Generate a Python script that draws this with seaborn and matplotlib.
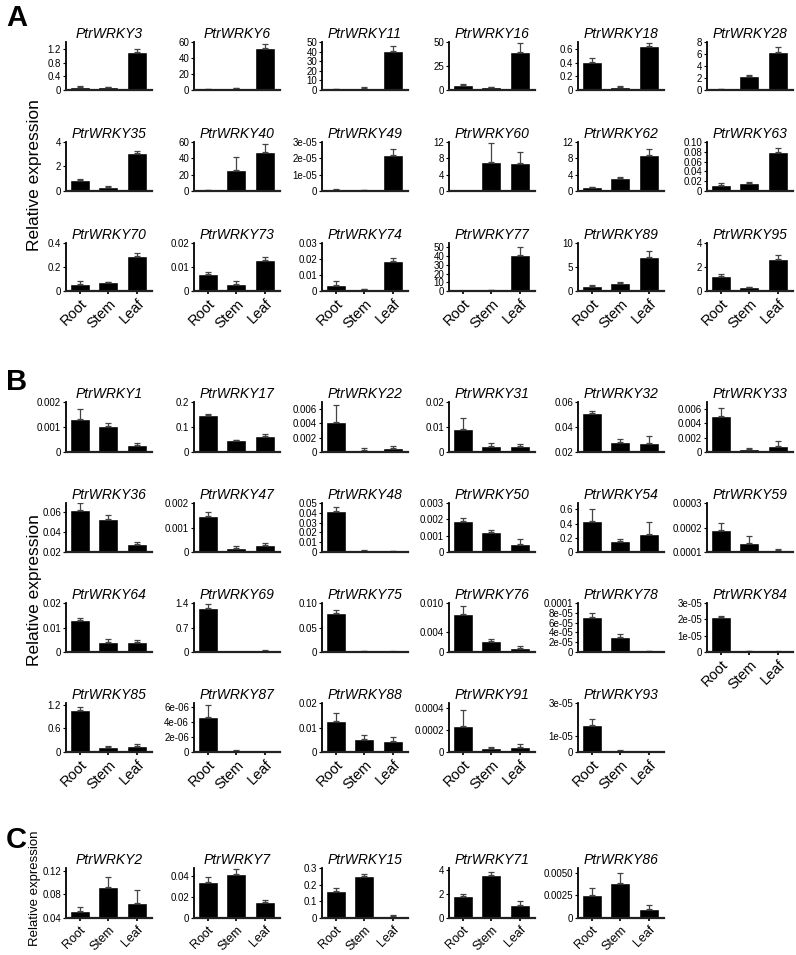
import matplotlib
matplotlib.use("Agg")
import matplotlib.pyplot as plt
import seaborn as sns
import numpy as np
import pandas as pd

sns.set_theme(style="ticks")
plt.rcParams['font.family'] = ['Liberation Sans', 'DejaVu Sans']
plt.rcParams['text.color'] = 'black'
plt.rcParams['axes.labelcolor'] = 'black'
plt.rcParams['xtick.color'] = 'black'
plt.rcParams['ytick.color'] = 'black'
plt.rcParams['axes.edgecolor'] = 'black'

tissues = ["Root", "Stem", "Leaf"]

# ---------------- Section A ----------------
A_genes = ["PtrWRKY3", "PtrWRKY6", "PtrWRKY11", "PtrWRKY16", "PtrWRKY18", "PtrWRKY28",
           "PtrWRKY35", "PtrWRKY40", "PtrWRKY49", "PtrWRKY60", "PtrWRKY62", "PtrWRKY63",
           "PtrWRKY70", "PtrWRKY73", "PtrWRKY74", "PtrWRKY77", "PtrWRKY89", "PtrWRKY95"]
A_root = [0.10, 0.8, 0.8, 5.0, 0.41, 0.1, 0.9, 0.7, 8e-7, 0.0, 1.0, 0.013,
          0.06, 0.007, 0.0035, 0.3, 1.1, 1.25]
A_stem = [0.08, 2.0, 2.5, 3.0, 0.05, 2.4, 0.35, 26.0, 6e-7, 7.2, 3.1, 0.016,
          0.072, 0.003, 0.001, 1.0, 1.7, 0.3]
A_leaf = [1.12, 52.0, 41.0, 40.0, 0.64, 6.3, 3.1, 48.0, 2.2e-5, 6.8, 8.8, 0.080,
          0.29, 0.0128, 0.019, 41.0, 7.0, 2.7]
A_root_err = [0.03, 0.2, 0.2, 0.8, 0.05, 0.05, 0.05, 0.2, 2e-7, 0.0, 0.1, 0.003,
              0.02, 0.001, 0.0025, 0.2, 0.1, 0.15]
A_stem_err = [0.02, 0.4, 0.5, 0.5, 0.01, 0.1, 0.03, 16.0, 1e-7, 4.5, 0.4, 0.003,
              0.005, 0.001, 0.0004, 0.4, 0.1, 0.05]
A_leaf_err = [0.10, 5.0, 5.0, 9.0, 0.04, 0.8, 0.2, 10.0, 3.5e-6, 2.8, 1.5, 0.008,
              0.025, 0.0015, 0.0018, 9.0, 1.4, 0.3]
A_ticklabels = [["0", "0.4", "0.8", "1.2"], ["0", "20", "40", "60"],
                ["0", "10", "20", "30", "40", "50"], ["0", "25", "50"],
                ["0", "0.2", "0.4", "0.6"], ["0", "2", "4", "6", "8"],
                ["0", "2", "4"], ["0", "20", "40", "60"],
                ["0", "1e-05", "2e-05", "3e-05"], ["0", "4", "8", "12"],
                ["0", "4", "8", "12"], ["0", "0.02", "0.04", "0.06", "0.08", "0.10"],
                ["0", "0.2", "0.4"], ["0", "0.01", "0.02"],
                ["0", "0.01", "0.02", "0.03"], ["0", "10", "20", "30", "40", "50"],
                ["0", "5", "10"], ["0", "2", "4"]]
A_ymax = [1.42, 60, 50, 50, 0.70, 8, 4, 60, 3e-5, 12, 12, 0.10,
          0.4, 0.02, 0.03, 55, 10, 4]

# ---------------- Section B ----------------
B_genes = ["PtrWRKY1", "PtrWRKY17", "PtrWRKY22", "PtrWRKY31", "PtrWRKY32", "PtrWRKY33",
           "PtrWRKY36", "PtrWRKY47", "PtrWRKY48", "PtrWRKY50", "PtrWRKY54", "PtrWRKY59",
           "PtrWRKY64", "PtrWRKY69", "PtrWRKY75", "PtrWRKY76", "PtrWRKY78", "PtrWRKY84",
           "PtrWRKY85", "PtrWRKY87", "PtrWRKY88", "PtrWRKY91", "PtrWRKY93"]
B_root = [0.0013, 0.148, 0.0042, 0.0093, 0.051, 0.0051,
          0.062, 0.00145, 0.042, 0.0019, 0.43, 0.00019,
          0.013, 1.27, 0.079, 0.0077, 7.2e-5, 2.15e-5,
          1.07, 4.6e-6, 0.0125, 0.00024, 1.65e-5]
B_stem = [0.00105, 0.046, 0.0003, 0.0022, 0.028, 0.0004,
          0.053, 0.00018, 0.0015, 0.0012, 0.16, 0.000135,
          0.004, 0.01, 0.002, 0.0022, 3.0e-5, 5e-7,
          0.13, 1.5e-7, 0.0055, 0.00004, 8e-7]
B_leaf = [0.00028, 0.065, 0.0006, 0.0022, 0.0275, 0.0009,
          0.028, 0.00027, 0.001, 0.00047, 0.25, 0.000107,
          0.004, 0.04, 0.001, 0.0008, 1.5e-6, 3e-7,
          0.15, 3e-8, 0.0045, 0.00005, 1e-7]
B_root_err = [0.0004, 0.004, 0.0024, 0.0043, 0.002, 0.0011,
              0.007, 0.0002, 0.004, 0.0002, 0.18, 0.00003,
              0.0007, 0.10, 0.007, 0.0017, 8e-6, 5e-7,
              0.07, 1.6e-6, 0.0035, 0.00015, 4e-6]
B_stem_err = [0.0001, 0.003, 0.0002, 0.0015, 0.0025, 0.0001,
              0.004, 0.00008, 0.0003, 0.00015, 0.03, 0.00003,
              0.0012, 0.003, 0.0005, 0.0004, 7e-6, 2e-7,
              0.02, 1e-7, 0.0015, 0.00001, 2e-7]
B_leaf_err = [0.00006, 0.005, 0.0002, 0.0011, 0.005, 0.0006,
              0.002, 0.00008, 0.0003, 0.0003, 0.17, 0.000007,
              0.0007, 0.01, 0.0003, 0.0004, 5e-7, 1e-7,
              0.05, 1e-8, 0.0018, 0.00002, 5e-8]
B_ticklabels = [["0", "0.001", "0.002"], ["0", "0.1", "0.2"],
                ["0", "0.002", "0.004", "0.006"], ["0", "0.01", "0.02"],
                ["0.02", "0.04", "0.06"], ["0", "0.002", "0.004", "0.006"],
                ["0.02", "0.04", "0.06"], ["0", "0.001", "0.002"],
                ["0", "0.01", "0.02", "0.03", "0.04", "0.05"],
                ["0", "0.001", "0.002", "0.003"], ["0", "0.2", "0.4", "0.6"],
                ["0.0001", "0.0002", "0.0003"],
                ["0", "0.01", "0.02"], ["0", "0.7", "1.4"], ["0", "0.05", "0.10"],
                ["0", "0.004", "0.010"],
                ["0", "2e-05", "4e-05", "6e-05", "8e-05", "0.0001"],
                ["0", "1e-05", "2e-05", "3e-05"],
                ["0", "0.6", "1.2"], ["0", "2e-06", "4e-06", "6e-06"],
                ["0", "0.01", "0.02"], ["0", "0.0002", "0.0004"],
                ["0", "1e-05", "3e-05"]]
B_ymax = [0.002, 0.2, 0.007, 0.02, 0.06, 0.007,
          0.069, 0.002, 0.05, 0.003, 0.69, 0.0003,
          0.02, 1.4, 0.10, 0.010, 0.0001, 3e-5,
          1.25, 6.5e-6, 0.02, 0.00045, 3e-5]

# ---------------- Section C ----------------
C_genes = ["PtrWRKY2", "PtrWRKY7", "PtrWRKY15", "PtrWRKY71", "PtrWRKY86"]
C_root = [0.052, 0.035, 0.16, 1.85, 0.0025]
C_stem = [0.092, 0.042, 0.25, 3.6, 0.0039]
C_leaf = [0.065, 0.015, 0.015, 1.1, 0.001]
C_root_err = [0.006, 0.004, 0.02, 0.2, 0.0008]
C_stem_err = [0.018, 0.005, 0.015, 0.25, 0.001]
C_leaf_err = [0.022, 0.002, 0.003, 0.3, 0.0004]
C_ticklabels = [["0.04", "0.08", "0.12"], ["0", "0.02", "0.04"],
                ["0", "0.1", "0.2", "0.3"], ["0", "2", "4"],
                ["0", "0.0025", "0.0050"]]
C_ymax = [0.125, 0.048, 0.3, 4.2, 0.0055]

# ---------------- Layout ----------------
W, H = 796, 955
fig = plt.figure(figsize=(W / 100, H / 100), dpi=100)

col_left = [66, 194, 322, 449, 578, 707]
ax_w = 86
A_rows = [(42, 90), (142, 191), (243, 291)]
B_rows = [(402, 452), (503, 552), (603, 652), (703, 752)]
C_rows = [(868, 918)]


def draw_panel(left, top, bottom, gene, vals, errs, labels, ymax, show_x, xfs):
    ax = fig.add_axes([left / W, 1 - bottom / H, ax_w / W, (bottom - top) / H])
    df = pd.DataFrame({"tissue": tissues, "value": vals})
    sns.barplot(data=df, x="tissue", y="value", color="black", saturation=1,
                width=0.7, ax=ax, errorbar=None)
    ax.errorbar(x=np.arange(3), y=vals, yerr=[[0, 0, 0], errs], fmt="none",
                ecolor="#444444", elinewidth=0.9, capsize=2.5, capthick=0.9)
    ticks = [float(s) for s in labels]
    ax.set_ylim(ticks[0], ymax)
    ax.set_yticks(ticks)
    ax.set_yticklabels(labels, fontsize=7)
    ax.set_xlim(-0.48, 2.53)
    ax.set_title(gene, style="italic", fontsize=10, pad=3)
    ax.set_xlabel("")
    ax.set_ylabel("")
    sns.despine(ax=ax)
    ax.spines["left"].set_linewidth(1.3)
    ax.spines["bottom"].set_linewidth(1.6)
    ax.spines["bottom"].set_color("#222222")
    ax.tick_params(axis="y", length=2.5, width=0.8, pad=1)
    ax.set_xticks([0, 1, 2])
    if show_x:
        ax.set_xticklabels(tissues, rotation=45, ha="right",
                           rotation_mode="anchor", fontsize=xfs)
        ax.tick_params(axis="x", length=2, pad=2)
    else:
        ax.set_xticklabels([])
        ax.tick_params(axis="x", length=0)
    return ax


def draw_section(genes, roots, stems, leaves, rerr, serr, lerr, ticklabels, ymaxes,
                 rows, xlabel_idx, xfs):
    for i, gene in enumerate(genes):
        r, c = divmod(i, 6)
        top, bottom = rows[r]
        vals = [roots[i], stems[i], leaves[i]]
        errs = [rerr[i], serr[i], lerr[i]]
        draw_panel(col_left[c], top, bottom, gene, vals, errs, ticklabels[i],
                   ymaxes[i], i in xlabel_idx, xfs)


draw_section(A_genes, A_root, A_stem, A_leaf, A_root_err, A_stem_err, A_leaf_err,
             A_ticklabels, A_ymax, A_rows, set(range(12, 18)), 10.5)
draw_section(B_genes, B_root, B_stem, B_leaf, B_root_err, B_stem_err, B_leaf_err,
             B_ticklabels, B_ymax, B_rows, {17, 18, 19, 20, 21, 22}, 10.5)
draw_section(C_genes, C_root, C_stem, C_leaf, C_root_err, C_stem_err, C_leaf_err,
             C_ticklabels, C_ymax, C_rows, set(range(5)), 9)

# section letters
for letter, y in [("A", 18), ("B", 382), ("C", 840)]:
    fig.text(6 / W, 1 - y / H, letter, fontsize=21, fontweight="bold",
             va="center", ha="left", color="black")

# y labels
for y, fs in [(175, 12.5), (590, 12.5), (888, 9.5)]:
    fig.text(35 / W, 1 - y / H, "Relative expression", rotation=90,
             va="center", ha="center", fontsize=fs, color="black")

fig.savefig("out.png", dpi=100)
